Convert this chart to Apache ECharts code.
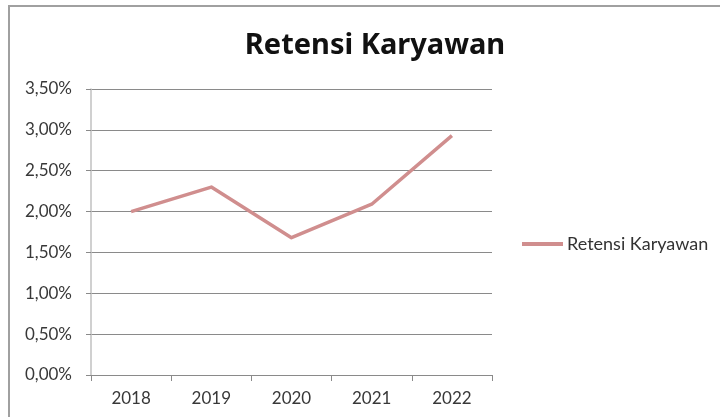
<!DOCTYPE html>
<html>
<head>
<meta charset="utf-8">
<script src="https://cdn.jsdelivr.net/npm/echarts@6/dist/echarts.min.js"></script>
<style>
  html, body { margin: 0; padding: 0; background: #fff; }
  #wrap { position: relative; width: 720px; height: 417px; overflow: hidden; }
  #frame {
    position: absolute; left: 8px; top: 5px; width: 720px; height: 420px;
    border-left: 2px solid #a0a0a0; border-top: 2px solid #a0a0a0;
    box-sizing: border-box; pointer-events: none;
  }
  #chart { position: absolute; left: 0; top: 0; width: 720px; height: 417px; }
</style>
</head>
<body>
<div id="wrap">
  <div id="chart"></div>
  <div id="frame"></div>
</div>
<script>
// data (percent)
var years = ["2018", "2019", "2020", "2021", "2022"];
var retensi = [2.00, 2.30, 1.68, 2.09, 2.93];
var seriesName = "Retensi Karyawan";

var fontFam = "Lato, 'Open Sans', sans-serif";
var myChart = echarts.init(document.getElementById("chart"));
myChart.setOption({
  animation: false,
  title: {
    text: "Retensi Karyawan",
    left: 370,
    top: 26,
    textAlign: "center",
    textStyle: { fontFamily: "'Noto Sans', sans-serif", fontSize: 29, fontWeight: "bold", color: "#111" }
  },
  legend: {
    left: 522,
    top: 235,
    padding: 0,
    icon: "rect",
    itemWidth: 41,
    itemHeight: 4,
    itemGap: 4,
    data: [seriesName],
    textStyle: { fontFamily: fontFam, fontSize: 18, color: "#333", padding: [0, 0, 0, -1] }
  },
  grid: { left: 91, right: 228, top: 89, bottom: 42, containLabel: false },
  xAxis: {
    type: "category",
    data: years,
    boundaryGap: true,
    axisLine: { lineStyle: { color: "#8a8a8a", width: 1 } },
    axisTick: { show: true, length: 6, lineStyle: { color: "#8a8a8a" } },
    axisLabel: { fontFamily: fontFam, fontSize: 17, color: "#383838", margin: 15 }
  },
  yAxis: {
    type: "value",
    min: 0,
    max: 3.5,
    interval: 0.5,
    axisLine: { show: true, lineStyle: { color: "#c0c0c0", width: 1.5 } },
    axisTick: { show: true, length: 5, lineStyle: { color: "#8a8a8a" } },
    axisLabel: {
      fontFamily: fontFam, fontSize: 17, color: "#383838", margin: 19,
      formatter: function (v) { return v.toFixed(2).replace(".", ",") + "%"; }
    },
    splitLine: { lineStyle: { color: "#8a8a8a", width: 1 } }
  },
  series: [
    {
      name: seriesName,
      type: "line",
      data: retensi,
      showSymbol: false,
      symbol: "none",
      itemStyle: { color: "#d08e8e" },
      lineStyle: { color: "#d08e8e", width: 3.5, join: "round" }
    }
  ]
});
</script>
</body>
</html>
